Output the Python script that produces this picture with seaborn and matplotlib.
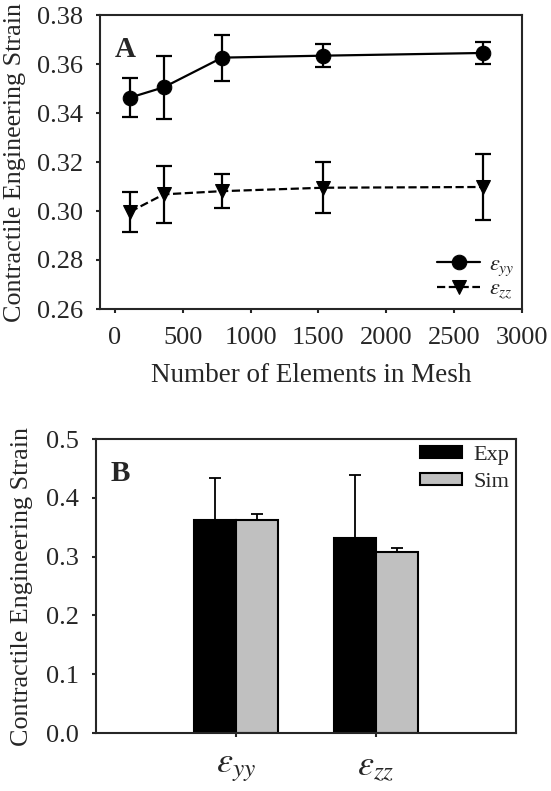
import numpy as np
import pandas as pd
import matplotlib
matplotlib.use("Agg")
import matplotlib.pyplot as plt
import seaborn as sns

# ---------------- data ----------------
mesh_elements = [112, 360, 790, 1536, 2710]
eyy_mean = [0.3463, 0.3505, 0.3626, 0.3634, 0.3645]
eyy_err = [0.0079, 0.0129, 0.0094, 0.0048, 0.0046]
ezz_mean = [0.2997, 0.3068, 0.3081, 0.3095, 0.3098]
ezz_err = [0.0081, 0.0117, 0.0070, 0.0105, 0.0135]

components = [r'$\varepsilon_{yy}$', r'$\varepsilon_{zz}$']
sources = ['Exp', 'Sim']
exp_vals = [0.362, 0.331]
exp_err = [0.072, 0.107]
sim_vals = [0.363, 0.308]
sim_err = [0.009, 0.007]

yticks_a = [0.26, 0.28, 0.30, 0.32, 0.34, 0.36, 0.38]
xticks_a = [0, 500, 1000, 1500, 2000, 2500, 3000]
yticks_b = [0.0, 0.1, 0.2, 0.3, 0.4, 0.5]

# ---------------- style ----------------
sns.set_style("ticks")
plt.rcParams['font.family'] = ['Liberation Serif', 'DejaVu Serif']
plt.rcParams['mathtext.fontset'] = 'stix'
plt.rcParams['axes.linewidth'] = 1.5
plt.rcParams['xtick.major.width'] = 1.5
plt.rcParams['ytick.major.width'] = 1.5
plt.rcParams['xtick.major.size'] = 3
plt.rcParams['ytick.major.size'] = 3
plt.rcParams['xtick.direction'] = 'out'
plt.rcParams['ytick.direction'] = 'out'

TICK_FS = 19
LABEL_FS = 19.5
YLABEL_FS = 18.8

fig = plt.figure(figsize=(5.51, 7.91), dpi=100)
axA = fig.add_axes([100/551, 1-309/791, 422/551, 294/791])
axB = fig.add_axes([96/551, 1-733/791, 420/551, 294/791])

# ---------------- panel A ----------------
dfA = pd.DataFrame({
    'elements': mesh_elements * 2,
    'strain': eyy_mean + ezz_mean,
    'comp': ['yy'] * 5 + ['zz'] * 5,
})
axA.errorbar(mesh_elements, eyy_mean, yerr=eyy_err, fmt='none', ecolor='black',
             elinewidth=1.6, capsize=5.5, capthick=1.6, zorder=2)
axA.errorbar(mesh_elements, ezz_mean, yerr=ezz_err, fmt='none', ecolor='black',
             elinewidth=1.6, capsize=5.5, capthick=1.6, zorder=2)
sns.lineplot(data=dfA[dfA.comp == 'yy'], x='elements', y='strain', ax=axA,
             color='black', linewidth=1.6, marker='o', markersize=10.5,
             markeredgecolor='black', label=r'$\varepsilon_{yy}$', zorder=3)
sns.lineplot(data=dfA[dfA.comp == 'zz'], x='elements', y='strain', ax=axA,
             color='black', linewidth=1.6, linestyle='--', marker='v', markersize=10.5,
             markeredgecolor='black', label=r'$\varepsilon_{zz}$', zorder=3)
axA.set_xlim(-110, 3000)
axA.set_ylim(0.26, 0.38)
axA.set_xticks(xticks_a)
axA.set_yticks(yticks_a)
axA.set_yticklabels([f'{v:.2f}' for v in yticks_a])
axA.tick_params(axis='both', labelsize=TICK_FS, top=False, right=False)
axA.tick_params(axis='y', pad=9)
axA.tick_params(axis='x', pad=10)
axA.set_xlabel('Number of Elements in Mesh', fontsize=LABEL_FS, labelpad=10)
axA.set_ylabel('Contractile Engineering Strain', fontsize=YLABEL_FS)
axA.yaxis.set_label_coords(-0.175, 0.5)
for s in axA.spines.values():
    s.set_visible(True)
axA.text(0.035, 0.93, 'A', transform=axA.transAxes, fontsize=21, fontweight='bold',
         ha='left', va='top')
axA.legend(loc='lower right', frameon=False, fontsize=16, handlelength=1.9,
           handletextpad=0.4, labelspacing=0.05, borderaxespad=0.0, borderpad=0.36)

# ---------------- panel B ----------------
dfB = pd.DataFrame({
    'comp': components * 2,
    'src': [sources[0]] * 2 + [sources[1]] * 2,
    'val': exp_vals + sim_vals,
})
sns.barplot(data=dfB, x='comp', y='val', hue='src', order=components, hue_order=sources,
            palette=['black', '#c0c0c0'], width=0.6, edgecolor='black', linewidth=1.5,
            saturation=1, ax=axB, errorbar=None, zorder=2)
for cont, errs, vals in zip(axB.containers, [exp_err, sim_err], [exp_vals, sim_vals]):
    xs = [p.get_x() + p.get_width() / 2 for p in cont.patches]
    axB.errorbar(xs, vals, yerr=[np.zeros(len(errs)), errs], fmt='none', ecolor='black',
                 elinewidth=1.3, capsize=4, capthick=1.3, zorder=1)
axB.set_xlim(-1, 2)
axB.set_ylim(0, 0.5)
axB.set_yticks(yticks_b)
axB.set_yticklabels([f'{v:.1f}' for v in yticks_b])
axB.tick_params(axis='y', labelsize=TICK_FS, pad=9)
axB.tick_params(axis='x', labelsize=26, pad=10)
axB.set_xlabel('')
axB.set_ylabel('Contractile Engineering Strain', fontsize=YLABEL_FS)
axB.yaxis.set_label_coords(-0.15, 0.5)
for s in axB.spines.values():
    s.set_visible(True)
axB.text(0.035, 0.93, 'B', transform=axB.transAxes, fontsize=21, fontweight='bold',
         ha='left', va='top')
axB.legend(loc='upper right', frameon=False, fontsize=16, handlelength=1.9,
           handleheight=0.5, handletextpad=0.5, labelspacing=0.35, borderaxespad=0.05,
           borderpad=0.25)

fig.savefig('out.png', dpi=100)
